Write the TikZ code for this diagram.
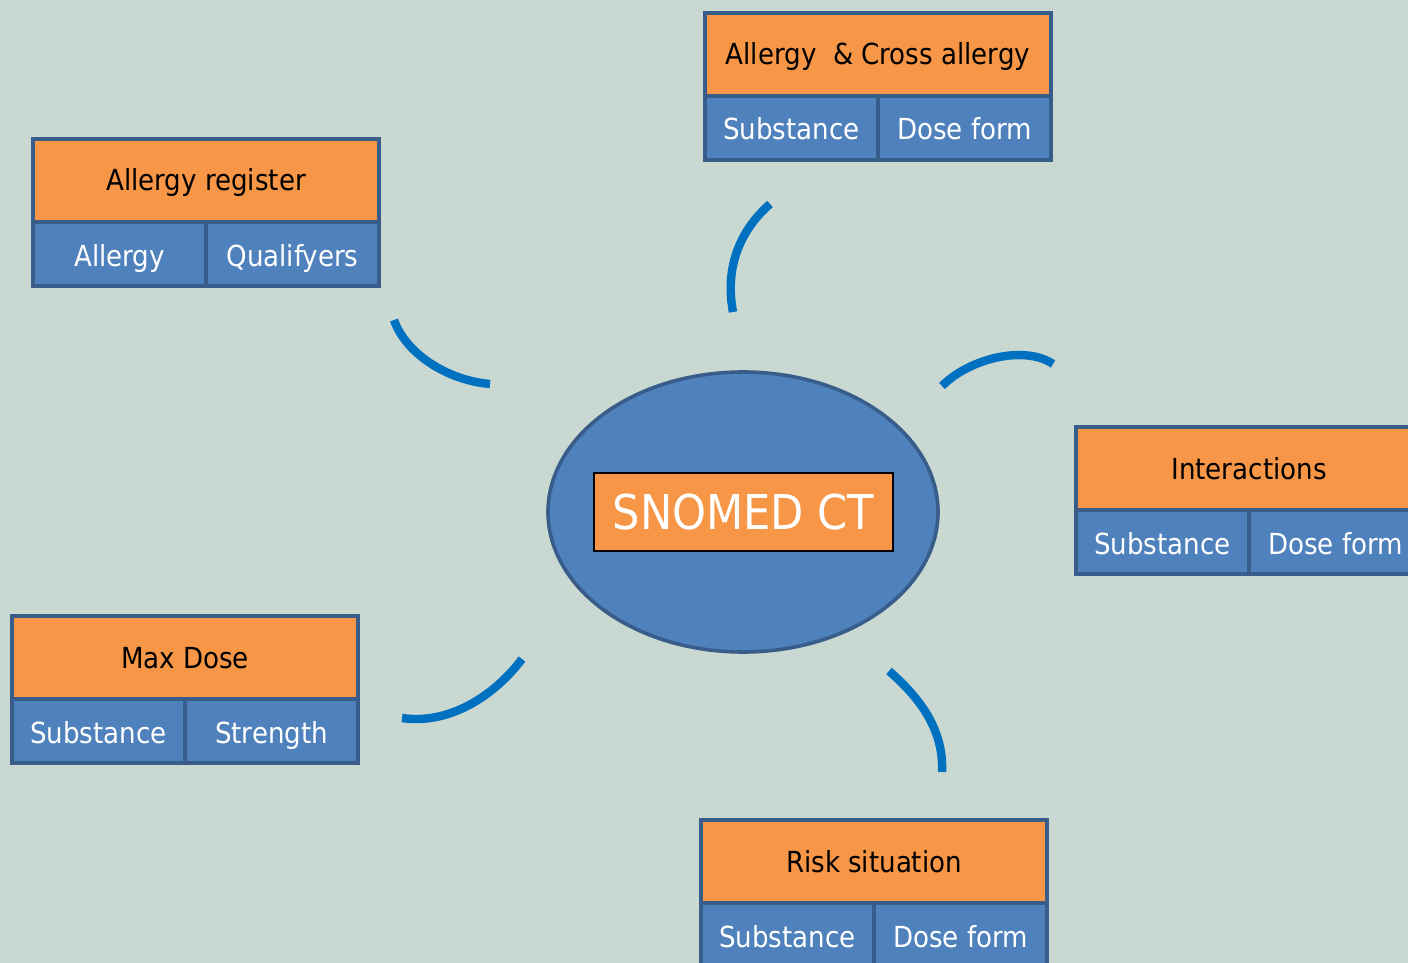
\documentclass[tikz,border=0pt]{standalone}
\usepackage{fontspec}
\setmainfont{DejaVu Sans Condensed}
\usetikzlibrary{shapes.geometric}

\definecolor{bgsea}{RGB}{201,216,208}
\definecolor{headorange}{RGB}{247,150,70}
\definecolor{cellblue}{RGB}{79,129,189}
\definecolor{edgeblue}{RGB}{56,93,138}
\definecolor{arcblue}{RGB}{0,112,192}

\tikzset{
  head/.style={draw=edgeblue, fill=headorange, line width=2pt, outer sep=0pt, inner sep=0pt,
    minimum width=173pt, minimum height=41.5pt, text height=10.5pt, text depth=0pt,
    font=\fontsize{14.5}{17}\selectfont},
  cell/.style={draw=edgeblue, fill=cellblue, line width=2pt, outer sep=0pt, inner sep=0pt,
    minimum width=86.5pt, minimum height=32pt, text height=12pt, text depth=0pt,
    text=white, font=\fontsize{14.5}{17}\selectfont},
  link/.style={arcblue, line width=4.2pt},
}

\begin{document}
\begin{tikzpicture}[x=0.5pt,y=-0.5pt]
    \fill[bgsea] (0,0) rectangle (1408,963);
    \useasboundingbox (0,0) rectangle (1408,963);
    \clip (0,0) rectangle (1408,963);

    % centre
    \node[ellipse, draw=edgeblue, fill=cellblue, line width=1.8pt, minimum width=195pt, minimum height=140pt] (core) at (743,512) {};
    \node[draw=black, fill=headorange, line width=1pt, minimum width=149.5pt, minimum height=39pt,
      text=white, font=\fontsize{24}{28}\selectfont] (snomed) at (743.5,512) {SNOMED CT};

    % boxes
    \foreach \n/\X/\Y/\ttl/\lft/\rgt in {cross/703/10/{Allergy \ \& Cross allergy}/Substance/Dose form,
        register/31/136/Allergy register/Allergy/Qualifyers,
        inter/1074/424/Interactions/Substance/Dose form,
        maxdose/10/613/Max Dose/Substance/Strength,
        risk/699/817/Risk situation/Substance/Dose form}{
        \node[head] (\n-t) at ({\X+175},{\Y+44.5}) {\ttl};
        \node[cell, anchor=north west] (\n-l) at (\n-t.south west) {\lft};
        \node[cell, anchor=north west] (\n-r) at (\n-l.north east) {\rgt};
    }

    % arcs
    \coordinate (a1s) at (733,312);
    \coordinate (a1e) at (770,204);
    \coordinate (a2s) at (942,386);
    \coordinate (a2e) at (1053,364);
    \coordinate (a3s) at (889,671);
    \coordinate (a3e) at (942,772);
    \coordinate (a4s) at (522,659);
    \coordinate (a4e) at (402,718);
    \coordinate (a5s) at (394,320);
    \coordinate (a5e) at (490,384);

    \draw[link] (a1s) .. controls (725,270) and (738,232) .. (a1e);
    \draw[link] (a2s) .. controls (970,358) and (1025,345) .. (a2e);
    \draw[link] (a3s) .. controls (920,698) and (944,730) .. (a3e);
    \draw[link] (a4s) .. controls (495,695) and (450,725) .. (a4e);
    \draw[link] (a5s) .. controls (405,352) and (445,380) .. (a5e);

\end{tikzpicture}
\end{document}
